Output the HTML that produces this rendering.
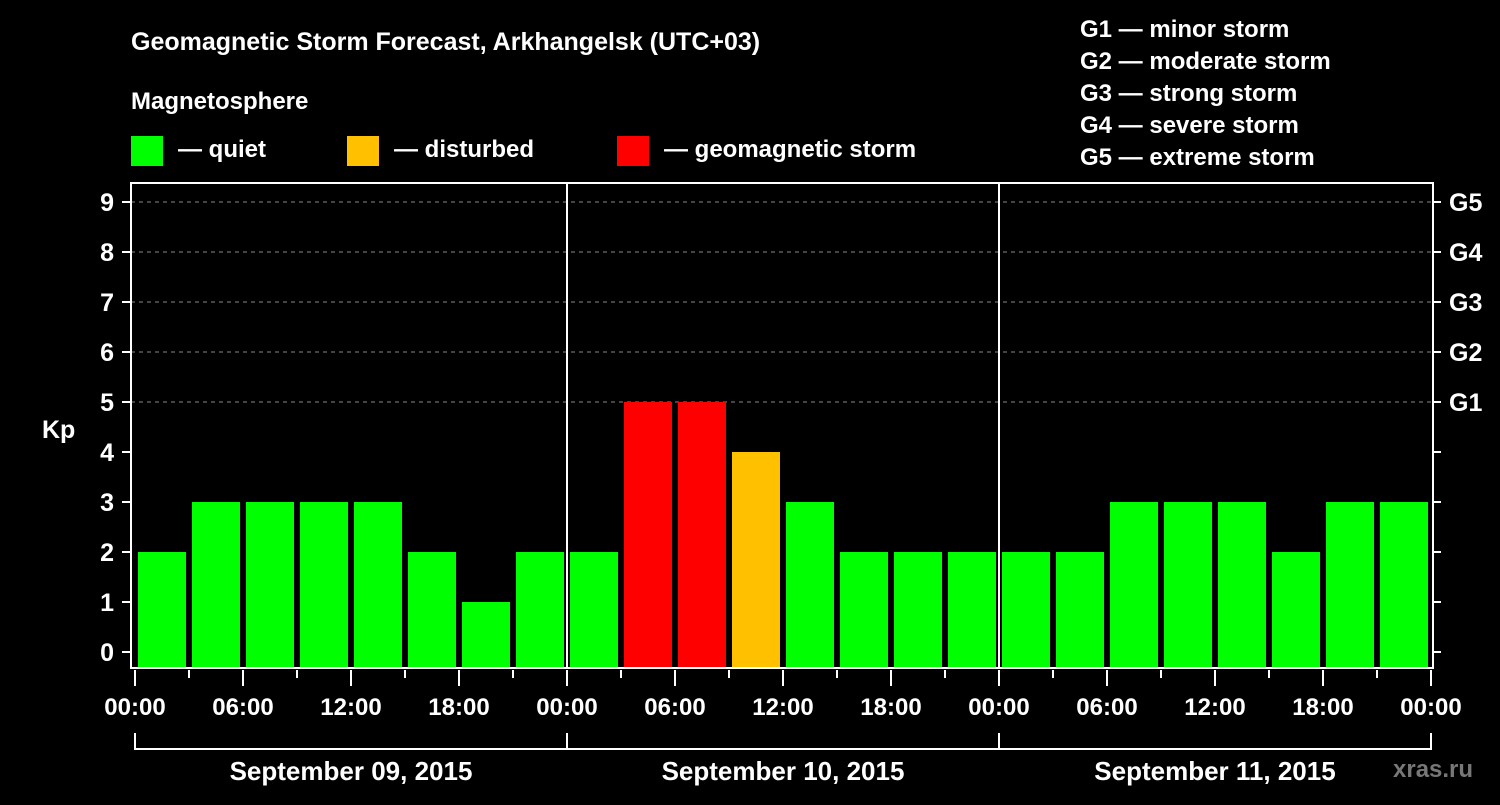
<!DOCTYPE html>
<html><head><meta charset="utf-8"><style>
body{margin:0;background:#000;width:1500px;height:800px;overflow:hidden;font-family:"Liberation Sans",sans-serif;font-weight:bold;color:#fff}
svg text{font-family:"Liberation Sans",sans-serif;font-weight:bold;fill:#fff}
</style></head><body>
<svg width="1500" height="800">
<text x="131" y="50" font-size="25">Geomagnetic Storm Forecast, Arkhangelsk (UTC+03)</text>
<text x="131" y="109" font-size="24">Magnetosphere</text>
<rect x="131" y="136" width="32" height="30" fill="#00ff00"/>
<text x="178" y="157" font-size="24">— quiet</text>
<rect x="347" y="136" width="32" height="30" fill="#ffc000"/>
<text x="394" y="157" font-size="24">— disturbed</text>
<rect x="617" y="136" width="32" height="30" fill="#ff0000"/>
<text x="664" y="157" font-size="24">— geomagnetic storm</text>
<g font-size="24">
<text x="1080" y="37">G1 — minor storm</text>
<text x="1080" y="69">G2 — moderate storm</text>
<text x="1080" y="101">G3 — strong storm</text>
<text x="1080" y="133">G4 — severe storm</text>
<text x="1080" y="165">G5 — extreme storm</text>
</g>
<text x="42" y="438" font-size="25">Kp</text>
<text x="1393" y="777" font-size="24" fill="#777" style="fill:#777">xras.ru</text>
<g id="plot"></g>
</svg>
<script>
const kpValues=[2,3,3,3,3,2,1,2, 2,5,5,4,3,2,2,2, 2,2,3,3,3,2,3,3];
const dayLabels=["September 09, 2015","September 10, 2015","September 11, 2015"];
const hourLabels=["00:00","06:00","12:00","18:00"];
const gLabels=["G1","G2","G3","G4","G5"];
const X0=135,SLOT=54,Y0=652,UNIT=50,TOP=183,BOT=668,L=131,R=1433;
const xs=i=>X0+SLOT*i, ys=v=>Y0-UNIT*v;
const g=document.getElementById('plot');const NS="http://www.w3.org/2000/svg";
function mk(t,a,txt){const e=document.createElementNS(NS,t);for(const k in a)e.setAttribute(k,a[k]);if(txt!=null)e.textContent=txt;g.appendChild(e);return e;}
for(let v=5;v<=9;v++){const e=mk('line',{x1:L,x2:R,y1:ys(v),y2:ys(v),stroke:'#888','stroke-dasharray':'4,4','stroke-width':1});

}
kpValues.forEach((v,i)=>{const c=v>=5?'#ff0000':(v==4?'#ffc000':'#00ff00');
const e=mk('rect',{x:xs(i)+3,y:ys(v),width:48,height:BOT-ys(v),fill:c});

});
const fr=mk('rect',{x:L,y:TOP,width:R-L,height:BOT-TOP,fill:'none',stroke:'#fff','stroke-width':2});


for(let d=1;d<3;d++){const e=mk('line',{x1:xs(8*d),x2:xs(8*d),y1:TOP,y2:BOT,stroke:'#fff','stroke-width':2});

}
for(let v=0;v<=9;v++){mk('line',{x1:122,x2:L,y1:ys(v),y2:ys(v),stroke:'#fff','stroke-width':2});
mk('line',{x1:R,x2:1441,y1:ys(v),y2:ys(v),stroke:'#fff','stroke-width':2});
const t=mk('text',{x:114,y:ys(v)+9,'font-size':25,'text-anchor':'end'},String(v));

}
gLabels.forEach((s,k)=>{const t=mk('text',{x:1449,y:ys(5+k)+9,'font-size':25},s);

});
for(let i=0;i<=24;i++){const major=i%2==0;mk('line',{x1:xs(i),x2:xs(i),y1:BOT+2,y2:major?686:678,stroke:'#fff','stroke-width':2});
if(major){const t=mk('text',{x:xs(i),y:715,'font-size':24,'text-anchor':'middle'},hourLabels[(i/2)%4]);

}}
mk('line',{x1:xs(0),x2:xs(24),y1:749,y2:749,stroke:'#fff','stroke-width':2});
for(let d=0;d<=3;d++)mk('line',{x1:xs(8*d),x2:xs(8*d),y1:733,y2:750,stroke:'#fff','stroke-width':2});
dayLabels.forEach((s,d)=>{const t=mk('text',{x:xs(8*d+4),y:780,'font-size':26,'text-anchor':'middle'},s);

});
</script>
</body></html>
